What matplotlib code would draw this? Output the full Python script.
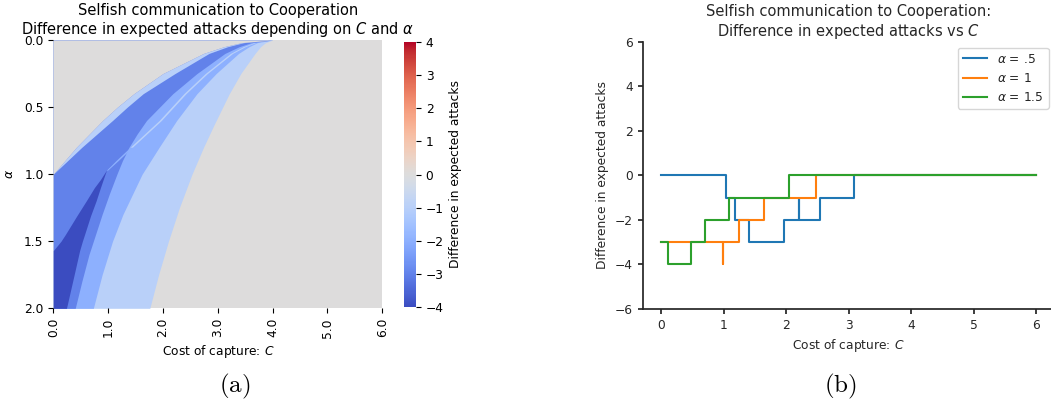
import numpy as np
import matplotlib
matplotlib.use('Agg')
import matplotlib.pyplot as plt
from matplotlib import cm, colors

plt.rcParams['font.size'] = 8.8

# ---- panel (a): boundaries between regions of the difference map ----
# each edge is the cost C reached at the listed alpha values;
# regions are painted in order, later ones on top
alpha_m1 = [0, 0.02, 0.05, 0.1, 0.25, 0.4, 0.634, 0.8, 1.0, 1.25, 1.5, 1.75, 2.0]
edge_m1 = [4.0, 3.87, 3.78, 3.68, 3.42, 3.21, 2.93, 2.74, 2.53, 2.30, 2.10, 1.92, 1.76]
alpha_m2 = [0, 0.02, 0.05, 0.1, 0.25, 0.4, 0.6, 0.8, 1.0, 1.3, 1.5, 1.75, 2.0]
edge_m2 = [4.0, 3.72, 3.57, 3.38, 2.97, 2.62, 2.25, 1.93, 1.62, 1.27, 1.08, 0.89, 0.73]
alpha_m3 = [0, 0.02, 0.05, 0.1, 0.25, 0.4, 0.6, 0.7, 0.8, 0.9, 1.0, 1.15, 1.3, 1.45, 1.6, 1.8, 2.0]
edge_m3 = [4.0, 3.61, 3.39, 3.13, 2.62, 2.18, 1.70, 1.53, 1.38, 1.26, 1.16, 1.02, 0.89, 0.77, 0.65, 0.52, 0.40]

# thin streak running into the tip of the dark wedge
alpha_streak = [0, 0.02, 0.05, 0.1, 0.25, 0.4, 0.6, 0.8]
streak_lo = [4.0, 3.655, 3.46, 3.23, 2.77, 2.38, 1.93, 1.40]
streak_hi = [4.0, 3.685, 3.50, 3.27, 2.81, 2.42, 1.97, 1.44]
alpha_streak_low = [0.8, 0.9, 0.97]
streak_low_lo = [1.40, 1.14, 0.97]
streak_low_hi = [1.44, 1.18, 0.99]

# dark wedge in the lower left corner
alpha_wedge = [0.97, 1.04, 1.1, 1.2, 1.31, 1.45, 1.5, 1.57, 1.75, 2.0]
wedge_l = [0.97, 0.86, 0.75, 0.60, 0.43, 0.22, 0.14, 0.0, 0.0, 0.0]
wedge_r = [0.97, 0.91, 0.86, 0.78, 0.68, 0.57, 0.53, 0.48, 0.38, 0.24]

alpha_outer = [0, 0.02, 0.05, 0.1, 0.25, 0.4, 0.5, 0.6, 0.8, 1.0]
outer_zero = [4.0, 3.43, 3.11, 2.74, 2.00, 1.47, 1.17, 0.90, 0.42, 0.0]
outer_band = [4.0, 3.47, 3.18, 2.84, 2.22, 1.64, 1.35, 1.08, 0.52, 0.0]

layers = [
    (-1, alpha_m1, None, edge_m1),
    (-2, alpha_m2, None, edge_m2),
    (-1, alpha_streak, streak_lo, streak_hi),
    (-3, alpha_m3, None, edge_m3),
    (-2, alpha_streak_low, streak_low_lo, streak_low_hi),
    (-4, alpha_wedge, wedge_l, wedge_r),
    (-1, alpha_outer, outer_zero, outer_band),
    (0, alpha_outer, None, outer_zero),
]

# ---- panel (b): step curves for three values of alpha ----
c_half = [0, 1.04, 1.18, 1.41, 1.97, 2.20, 2.21, 2.54, 3.09, 6]
d_half = [0, -1, -2, -3, -2, -1, -2, -1, 0, 0]
c_one = [0, 0.98, 0.99, 1.24, 1.65, 2.48, 6]
d_one = [-3, -4, -3, -2, -1, 0, 0]
c_three_half = [0, 0.11, 0.48, 0.69, 1.08, 2.05, 6]
d_three_half = [-3, -4, -3, -2, -1, 0, 0]

fig = plt.figure(figsize=(10.51, 4.08), dpi=100)
cmap = plt.get_cmap('coolwarm')
norm = colors.Normalize(vmin=-4, vmax=4)

ax1 = fig.add_axes([53.3 / 1051, 1 - 308.3 / 408, 329 / 1051, 268.3 / 408])
ax1.set_facecolor(cmap(norm(0)))
for val, a, left, right in layers:
    if left is None:
        left = 0
    ax1.fill_betweenx(a, left, right, color=cmap(norm(val)), lw=0, antialiased=False)
ax1.set_xlim(0, 6)
ax1.set_ylim(2, 0)
for s in ax1.spines.values():
    s.set_visible(False)
ax1.set_xticks(np.arange(0, 7))
ax1.set_xticklabels(['%.1f' % v for v in range(7)], rotation=90)
ax1.set_yticks([0, 0.5, 1.0, 1.5, 2.0])
ax1.set_yticklabels(['0.0', '0.5', '1.0', '1.5', '2.0'])
ax1.set_xlabel('Cost of capture: $C$')
ax1.set_ylabel(r'$\alpha$', labelpad=6)
ax1.set_title('Selfish communication to Cooperation\n'
              r'Difference in expected attacks depending on $C$ and $\alpha$',
              fontsize=10.56, pad=4)

cax = fig.add_axes([403.5 / 1051, 1 - 307 / 408, 12.5 / 1051, 265 / 408])
cb = fig.colorbar(cm.ScalarMappable(norm=norm, cmap=cmap), cax=cax)
cb.outline.set_visible(False)
cb.set_ticks(range(-4, 5))
cb.set_label('Difference in expected attacks')

ax1.text(0.55, -0.29, r'$\mathrm{(a)}$', transform=ax1.transAxes,
         ha='center', va='center', fontsize=18, math_fontfamily='cm')

# right panel, seaborn "ticks"-like styling
dark = '0.15'
ax2 = fig.add_axes([642.7 / 1051, 1 - 309 / 408, 412 / 1051, 267.3 / 408])
ax2.plot(c_half, d_half, drawstyle='steps-post', label=r'$\alpha$ = .5')
ax2.plot(c_one, d_one, drawstyle='steps-post', label=r'$\alpha$ = 1')
ax2.plot(c_three_half, d_three_half, drawstyle='steps-post', label=r'$\alpha$ = 1.5')
ax2.set_xlim(-0.3, 6.3)
ax2.set_ylim(-6, 6)
ax2.set_yticks(range(-6, 7, 2))
ax2.spines['top'].set_visible(False)
ax2.spines['right'].set_visible(False)
for s in ('left', 'bottom'):
    ax2.spines[s].set_color(dark)
    ax2.spines[s].set_linewidth(1.25)
ax2.tick_params(colors=dark, width=1.25)
ax2.set_xlabel('Cost of capture: $C$', color=dark)
ax2.set_ylabel('Difference in expected attacks', color=dark)
ax2.set_title('Selfish communication to Cooperation:\n'
              r'Difference in expected attacks vs $C$', fontsize=10.56, color=dark, pad=4)
leg = ax2.legend(loc='upper right')
for t in leg.get_texts():
    t.set_color(dark)

ax2.text(0.479, -0.29, r'$\mathrm{(b)}$', transform=ax2.transAxes,
         ha='center', va='center', fontsize=18, math_fontfamily='cm')

fig.savefig('out.png', dpi=100)
